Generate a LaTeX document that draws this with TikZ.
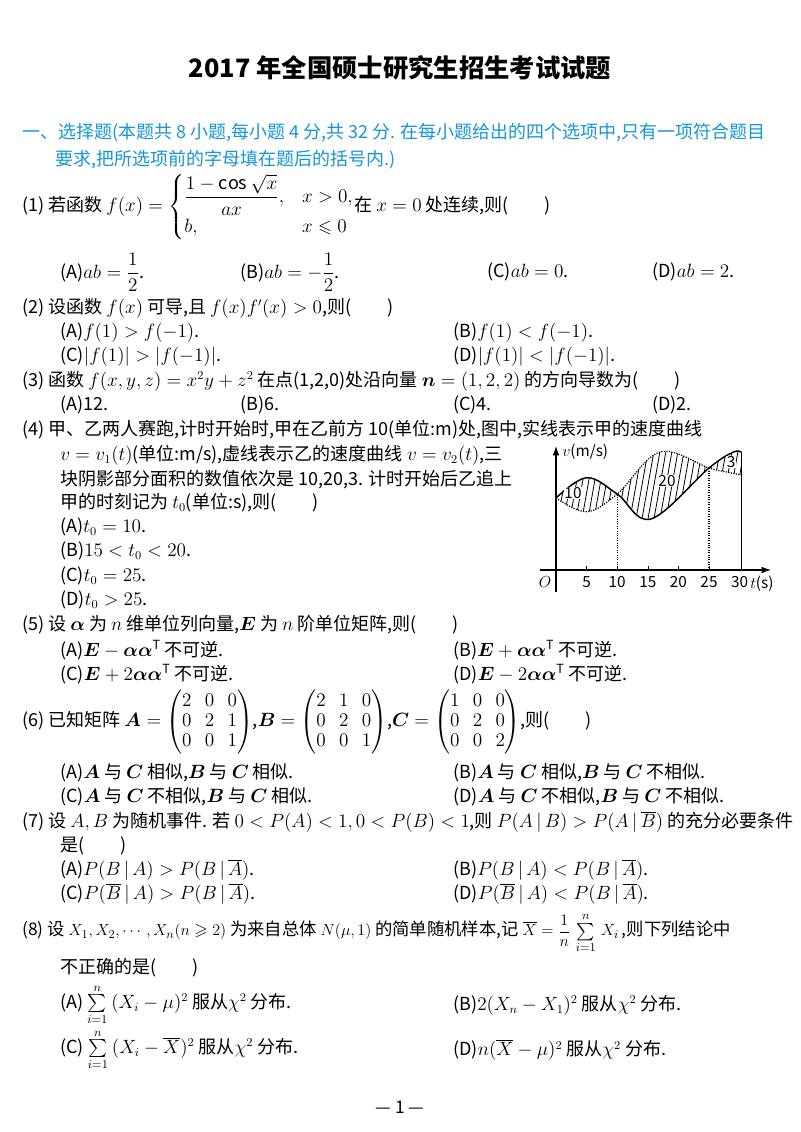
\documentclass[tikz,border=0pt]{standalone}
\usepackage{amsmath,amssymb,bm}
\usepackage{fontspec}
\setmainfont{Noto Sans CJK SC}
\usetikzlibrary{arrows.meta}
\definecolor{hdblue}{RGB}{20,150,215}
\newcommand\tx[4]{\node[txt] (#1) at (#2,#3) {#4};}
\tikzset{txt/.style={anchor=west,inner sep=0pt,font=\fontsize{13.5}{15}\selectfont},
 lbl/.style={inner sep=0pt,font=\fontsize{11.5}{13}\selectfont},
 curveA/.style={line width=1.1pt},
 curveB/.style={densely dotted,line width=0.9pt}}
\begin{document}
\begin{tikzpicture}[x=0.75pt,y=-0.75pt]
\useasboundingbox (0,0) rectangle (800,1132);
\node[font=\fontsize{19}{22}\selectfont\bfseries] (title) at (400,68) {2017 年全国硕士研究生招生考试试题};
\tx{h1}{22}{133}{\color{hdblue}一、选择题(本题共 8 小题,每小题 4 分,共 32 分. 在每小题给出的四个选项中,只有一项符合题目}
\tx{h2}{55}{160}{\color{hdblue}要求,把所选项前的字母填在题后的括号内.)}
% Q1
\tx{q1}{22}{207}{(1)\ 若函数 $f(x)=\begin{cases}\dfrac{1-\cos\sqrt{x}}{ax}, & x>0,\\[1pt] b, & x\leqslant 0\end{cases}$在 $x=0$ 处连续,则(\qquad)}
\tx{q1a}{60}{272}{(A)$ab=\dfrac12$.}
\tx{q1b}{240}{272}{(B)$ab=-\dfrac12$.}
\tx{q1c}{487}{272}{(C)$ab=0$.}
\tx{q1d}{652}{272}{(D)$ab=2$.}
% Q2
\tx{q2}{22}{308}{(2)\ 设函数 $f(x)$ 可导,且 $f(x)f'(x)>0$,则(\qquad)}
\tx{q2a}{60}{333}{(A)$f(1)>f(-1)$.}
\tx{q2b}{453}{333}{(B)$f(1)<f(-1)$.}
\tx{q2c}{60}{357}{(C)$|f(1)|>|f(-1)|$.}
\tx{q2d}{453}{357}{(D)$|f(1)|<|f(-1)|$.}
% Q3
\tx{q3}{22}{381}{(3)\ 函数 $f(x,y,z)=x^2y+z^2$ 在点(1,2,0)处沿向量 $\bm{n}=(1,2,2)$ 的方向导数为(\qquad)}
\tx{q3a}{60}{405}{(A)12.}
\tx{q3b}{240}{405}{(B)6.}
\tx{q3c}{453}{405}{(C)4.}
\tx{q3d}{652}{405}{(D)2.}
% Q4
\tx{q4}{22}{430}{(4)\ 甲、乙两人赛跑,计时开始时,甲在乙前方 10(单位:m)处,图中,实线表示甲的速度曲线}
\tx{q4l2}{60}{455}{$v=v_1(t)$(单位:m/s),虚线表示乙的速度曲线 $v=v_2(t)$,三}
\tx{q4l3}{60}{480}{块阴影部分面积的数值依次是 10,20,3. 计时开始后乙追上}
\tx{q4l4}{60}{503}{甲的时刻记为 $t_0$(单位:s),则(\qquad)}
\tx{q4a}{60}{527}{(A)$t_0=10$.}
\tx{q4b}{60}{551}{(B)$15<t_0<20$.}
\tx{q4c}{60}{576}{(C)$t_0=25$.}
\tx{q4d}{60}{600}{(D)$t_0>25$.}
% graph
\coordinate (O) at (556,570);
\begin{scope}
\clip plot[smooth,tension=0.6] coordinates {(556,498) (586.6,477.7) (617.2,494) (650.9,519) (709,468) (733.5,452) (741.6,452.5)}
 -- plot[smooth,tension=0.6] coordinates {(741.6,475) (727,472) (709,468) (660,452) (617.2,494) (586.6,511.7) (556,498)} -- cycle;
\foreach \x in {520,526,...,780} \draw[line width=0.6pt] (\x,530) -- (\x+16,440);
\end{scope}
\draw[curveA] plot[smooth,tension=0.6] coordinates {(556,498) (586.6,477.7) (617.2,494) (650.9,519) (709,468) (733.5,452) (741.6,452.5)};
\draw[curveB] plot[smooth,tension=0.6] coordinates {(556,498) (586.6,511.7) (617.2,494) (660,452) (709,468) (727,472) (741.6,475)};
\draw[-{Latex[length=7pt,width=5pt]},line width=0.8pt] (540,570) -- (771,570);
\draw[-{Latex[length=7pt,width=5pt]},line width=0.8pt] (556,592) -- (556,446);
\draw[line width=1pt] (741.6,570) -- (741.6,452.5);
\draw[densely dotted,line width=0.8pt] (617.2,570) -- (617.2,494);
\draw[densely dotted,line width=0.8pt] (709,570) -- (709,468);
\foreach \t in {5,10,15,20,25} \draw (556+6.12*\t,570) -- (556+6.12*\t,566);
\node[lbl,fill=white,inner sep=0.5pt] (r1) at (573,493) {10};
\node[lbl,fill=white,inner sep=0.5pt] (r2) at (667,481) {20};
\node[lbl,fill=white,inner sep=0.5pt] (r3) at (731,462) {3};
\node[lbl,anchor=west] (vl) at (562,452) {$v$(m/s)};
\node[lbl] (ol) at (545,582) {$O$};
\foreach \t in {5,10,15,20,25,30} \node[lbl] at (556+6.12*\t,582) {\t};
\node[lbl,anchor=west] (tl) at (750,584) {$t$(s)};
% Q5
\tx{q5}{22}{625}{(5)\ 设 $\bm\alpha$ 为 $n$ 维单位列向量,$\bm E$ 为 $n$ 阶单位矩阵,则(\qquad)}
\tx{q5a}{60}{650}{(A)$\bm E-\bm\alpha\bm\alpha^{\mathrm T}$ 不可逆.}
\tx{q5b}{453}{650}{(B)$\bm E+\bm\alpha\bm\alpha^{\mathrm T}$ 不可逆.}
\tx{q5c}{60}{674}{(C)$\bm E+2\bm\alpha\bm\alpha^{\mathrm T}$ 不可逆.}
\tx{q5d}{453}{674}{(D)$\bm E-2\bm\alpha\bm\alpha^{\mathrm T}$ 不可逆.}
% Q6
\tx{q6}{22}{722}{(6)\ 已知矩阵 $\bm A=\begin{pmatrix}2&0&0\\0&2&1\\0&0&1\end{pmatrix}$,$\bm B=\begin{pmatrix}2&1&0\\0&2&0\\0&0&1\end{pmatrix}$,$\bm C=\begin{pmatrix}1&0&0\\0&2&0\\0&0&2\end{pmatrix}$,则(\qquad)}
\tx{q6a}{60}{773}{(A)$\bm A$ 与 $\bm C$ 相似,$\bm B$ 与 $\bm C$ 相似.}
\tx{q6b}{453}{773}{(B)$\bm A$ 与 $\bm C$ 相似,$\bm B$ 与 $\bm C$ 不相似.}
\tx{q6c}{60}{797}{(C)$\bm A$ 与 $\bm C$ 不相似,$\bm B$ 与 $\bm C$ 相似.}
\tx{q6d}{453}{797}{(D)$\bm A$ 与 $\bm C$ 不相似,$\bm B$ 与 $\bm C$ 不相似.}
% Q7
\tx{q7}{22}{822}{(7)\ 设 $A,B$ 为随机事件. 若 $0<P(A)<1,0<P(B)<1$,则 $P(A\,|\,B)>P(A\,|\,\overline{B})$ 的充分必要条件}
\tx{q7l2}{60}{846}{是(\qquad)}
\tx{q7a}{60}{870}{(A)$P(B\,|\,A)>P(B\,|\,\overline{A})$.}
\tx{q7b}{453}{870}{(B)$P(B\,|\,A)<P(B\,|\,\overline{A})$.}
\tx{q7c}{60}{894}{(C)$P(\overline{B}\,|\,A)>P(B\,|\,\overline{A})$.}
\tx{q7d}{453}{894}{(D)$P(\overline{B}\,|\,A)<P(B\,|\,\overline{A})$.}
% Q8
\node[txt,font=\fontsize{13}{15}\selectfont] (q8) at (22,933) {(8)\ 设 $X_1,X_2,\cdots,X_n(n\geqslant2)$ 为来自总体 $N(\mu,1)$ 的简单随机样本,记 $\overline{X}=\dfrac1n\,\sum\limits_{i=1}^{n}\,X_i$\,,则下列结论中};
\tx{q8l2}{60}{968}{不正确的是(\qquad)}
\tx{q8a}{60}{1005}{(A)\ $\sum\limits_{i=1}^{n}\ (X_i-\mu)^2$ 服从$\chi^2$ 分布.}
\tx{q8b}{453}{1005}{(B)$2(X_n-X_1)^2$ 服从$\chi^2$ 分布.}
\tx{q8c}{60}{1050}{(C)\ $\sum\limits_{i=1}^{n}\ (X_i-\overline{X})^2$ 服从$\chi^2$ 分布.}
\tx{q8d}{453}{1050}{(D)$n(\overline{X}-\mu)^2$ 服从$\chi^2$ 分布.}
\node[font=\fontsize{13}{15}\selectfont] (foot) at (400,1107) {— 1 —};
\end{tikzpicture}
\end{document}
